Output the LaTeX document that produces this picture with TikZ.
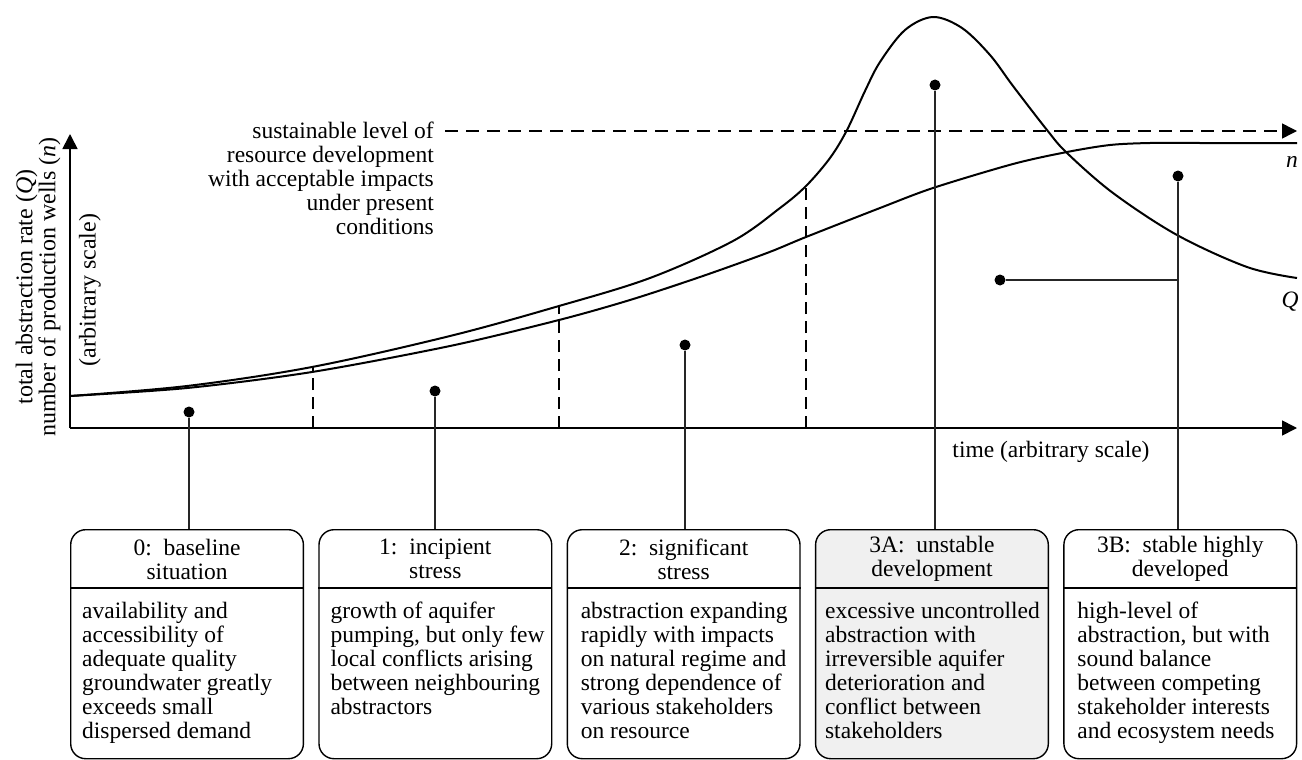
\documentclass[tikz,border=0pt]{standalone}
\usepackage{fontspec}
\setmainfont{Liberation Serif}
\usetikzlibrary{arrows.meta}
\tikzset{
  curve/.style={line width=2pt, line join=round},
  axis/.style={line width=1.7pt, -{Triangle[length=15pt,width=15pt]}},
  guide/.style={line width=1.5pt, dash pattern=on 12pt off 7pt},
  hguide/.style={line width=1.5pt, dash pattern=on 13pt off 8pt, -{Triangle[length=15pt,width=15pt]}},
  pin/.style={line width=1.3pt, draw=black!85},
  dot/.style={circle, fill=black, inner sep=0pt, minimum size=11pt},
  stagebox/.style={draw, line width=1.4pt, rounded corners=15pt, minimum width=232.7pt, minimum height=229pt, inner sep=0pt, anchor=north west},
  txt/.style={font=\fontsize{23.5}{24}\selectfont, inner sep=0pt},
  head/.style={txt, align=center},
  body/.style={txt, align=left, anchor=north west},
  rottxt/.style={inner sep=0pt, rotate=90, align=center, font=\fontsize{24}{23}\selectfont},
}
\begin{document}
\begin{tikzpicture}[x=1pt, y=-1pt]
\useasboundingbox (0,0) rectangle (1302,760);

% axes
\coordinate (O) at (70,428);
\coordinate (ytip) at (70,134);
\coordinate (xtip) at (1297,428);
\draw[axis] (O) -- (ytip);
\draw[axis] (O) -- (xtip);

% axis labels
\node[rottxt] (ylab) at (38,287) {total abstraction rate (\textit{Q})\\number of production wells (\textit{n})};
\node[rottxt] (yscale) at (90,290) {(arbitrary scale)};
\node[txt] (tlab) at (1051,452) {time (arbitrary scale)};

% sustainable level
\node[txt, align=right, anchor=east] (sus) at (434,178) {sustainable level of\\resource development\\with acceptable impacts\\under present\\conditions};
\coordinate (dstart) at (445,131);
\coordinate (dend) at (1297,131);
\draw[hguide] (dstart) -- (dend);

% curves
\draw[curve] plot[smooth, tension=0.55] coordinates {
  (70,396) (187,386) (312,367) (450,336) (559,306) (650,278) (733,241) (780,208)
  (806,186) (830,158) (847,130) (865,91) (880,62) (905,30) (933,17) (962,28)
  (990,55) (1013,86) (1047,130) (1067,153) (1113,193) (1177,235) (1247,267) (1297,278)};
\draw[curve] plot[smooth, tension=0.5] coordinates {
  (70,396) (187,388) (312,372) (450,346) (559,320) (630,300) (700,277) (767,253)
  (806,237) (880,208) (933,188) (1013,164) (1067,152) (1110,145) (1150,143) (1200,143) (1297,143)};
\node[txt, font=\fontsize{23.5}{24}\selectfont\itshape] (nlab) at (1292,162) {n};
\node[txt, font=\fontsize{23.5}{24}\selectfont\itshape] (qlab) at (1290,302) {Q};

% stage boundaries
\coordinate (s1b) at (313,428); \coordinate (s1t) at (313,367);
\coordinate (s2b) at (559,428); \coordinate (s2t) at (559,306);
\coordinate (s3b) at (806,428); \coordinate (s3t) at (806,186);
\draw[guide] (s1b) -- (s1t);
\draw[guide] (s2b) -- (s2t);
\draw[guide] (s3b) -- (s3t);

% boxes
\node[stagebox] (b0) at (70,529) {};
\node[stagebox] (b1) at (318.3,529) {};
\node[stagebox] (b2) at (566.6,529) {};
\node[stagebox, fill=black!6] (b3a) at (814.9,529) {};
\node[stagebox] (b3b) at (1063.2,529) {};
\foreach \b in {b0,b1,b2,b3a,b3b}{
  \draw[line width=1.4pt] (\b.west |- 0,588) -- (\b.east |- 0,588);
}

\node[head] (h0) at (b0.center |- 0,559) {0:~~baseline\\situation};
\node[head] (h1) at (b1.center |- 0,559) {1:~~incipient\\stress};
\node[head] (h2) at (b2.center |- 0,559) {2:~~significant\\stress};
\node[head] (h3a) at (b3a.center |- 0,559) {3A:~~unstable\\development};
\node[head] (h3b) at (b3b.center |- 0,559) {3B:~~stable highly\\developed};

\node[body] (t0) at ([xshift=12pt]b0.west |- 0,602) {availability and\\accessibility of\\adequate quality\\groundwater greatly\\exceeds small\\dispersed demand};
\node[body] (t1) at ([xshift=12pt]b1.west |- 0,602) {growth of aquifer\\pumping, but only few\\local conflicts arising\\between neighbouring\\abstractors};
\node[body] (t2) at ([xshift=14pt]b2.west |- 0,602) {abstraction expanding\\rapidly with impacts\\on natural regime and\\strong dependence of\\various stakeholders\\on resource};
\node[body] (t3a) at ([xshift=10pt]b3a.west |- 0,602) {excessive uncontrolled\\abstraction with\\irreversible aquifer\\deterioration and\\conflict between\\stakeholders};
\node[body] (t3b) at ([xshift=14pt]b3b.west |- 0,602) {high-level of\\abstraction, but with\\sound balance\\between competing\\stakeholder interests\\and ecosystem needs};

% pins
\node[dot] (p0) at (189,412) {};
\node[dot] (p1) at (435,391) {};
\node[dot] (p2) at (685,345) {};
\node[dot] (p3a) at (935,85) {};
\node[dot] (p3b) at (1178,176) {};
\node[dot] (p3c) at (1000,280) {};
\draw[pin] (p0) -- (p0 |- b0.north);
\draw[pin] (p1) -- (p1 |- b1.north);
\draw[pin] (p2) -- (p2 |- b2.north);
\draw[pin] (p3a) -- (p3a |- b3a.north);
\draw[pin] (p3b) -- (p3b |- b3b.north);
\draw[pin] (p3c) -- (p3c -| p3b);
\end{tikzpicture}
\end{document}
